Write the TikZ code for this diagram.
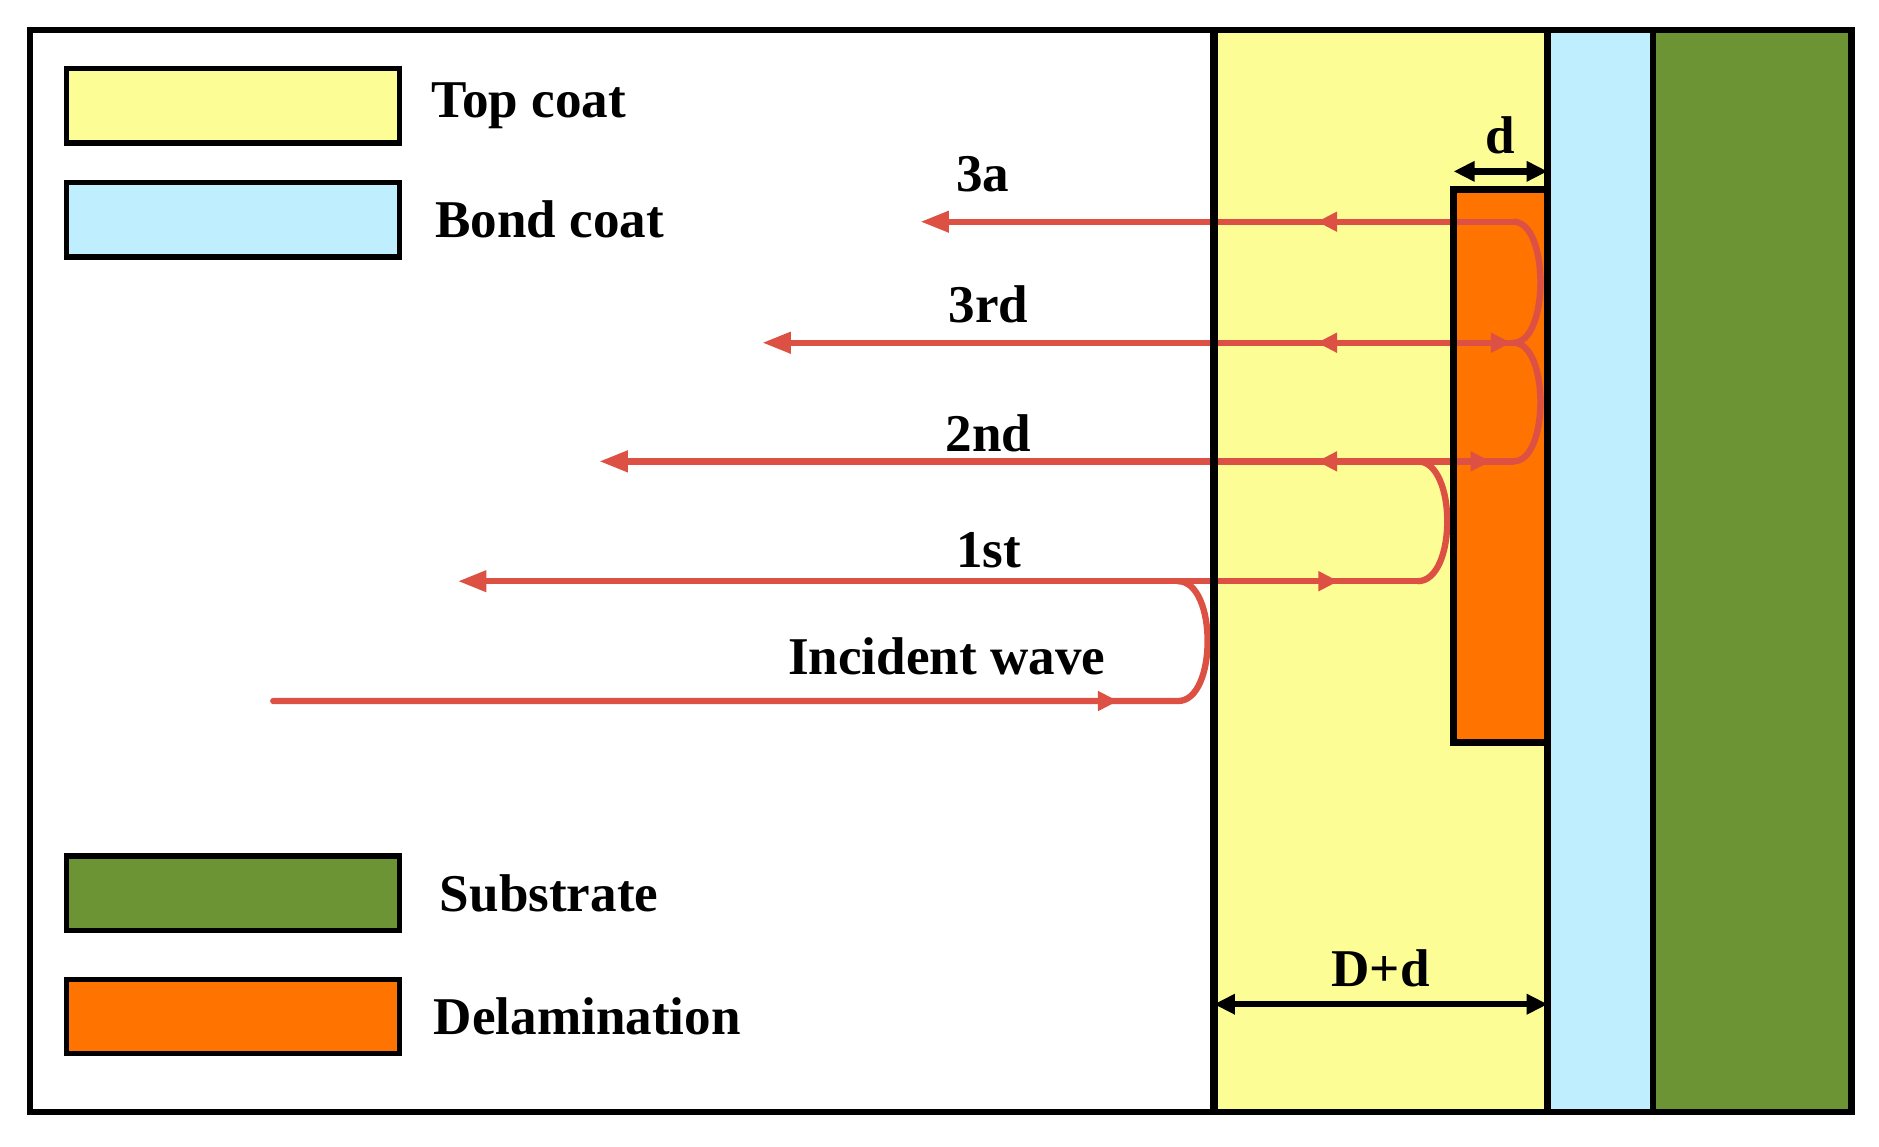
\documentclass[tikz,border=0pt]{standalone}
\usepackage{fontspec}
\setmainfont{Liberation Serif}
\usetikzlibrary{positioning,arrows.meta}
\definecolor{tcyellow}{RGB}{253,253,150}
\definecolor{bcblue}{RGB}{191,238,255}
\definecolor{subgreen}{RGB}{108,148,53}
\definecolor{delorange}{RGB}{255,115,0}
\definecolor{wavered}{RGB}{221,80,68}

\begin{document}
\begin{tikzpicture}[x=0.01cm, y=-0.01cm, every node/.style={font=\fontsize{12.6}{15}\selectfont\bfseries}]
  \tikzset{
    legbox/.style={draw, line width=1.3pt, minimum width=2.78cm, minimum height=0.62cm, inner sep=0pt, anchor=north west},
    layer/.style={anchor=north west, inner sep=0pt, minimum height=9.03cm},
    ray/.style={draw=wavered, line width=1.5pt},
    endtip/.style={-{Triangle[length=6.8pt, width=4.8pt]}},
    midtip/.style={-{Triangle[length=4.8pt, width=4.5pt]}},
    dimline/.style={line width=1.5pt, {Triangle[length=5pt, width=4.6pt]}-{Triangle[length=5pt, width=4.6pt]}}
  }
  \useasboundingbox (0,0) rectangle (1568,957);

  % Coating layers
  \node[layer, fill=tcyellow, minimum width=2.77cm] (tc)  at (1013,25) {};
  \node[layer, fill=bcblue, minimum width=0.88cm]   (bc)  at (1290,25) {};
  \node[layer, fill=subgreen, minimum width=1.67cm] (sub) at (1378,25) {};
  \node[anchor=north west, inner sep=0pt, fill=delorange, minimum width=0.77cm, minimum height=4.6cm] (del) at (1213,158) {};

  % Waves
  \draw[ray, line cap=round] (228,585) -- (983,585) .. controls (1016,585) and (1016,485) .. (983,485);
  \draw[ray, endtip] (1183,485) -- (382,485);
  \draw[ray] (1183,485) .. controls (1216,485) and (1216,385) .. (1183,385);
  \draw[ray, endtip] (1263,385) -- (500,385);
  \draw[ray] (1263,385) .. controls (1293,385) and (1293,286) .. (1263,286);
  \draw[ray, endtip] (1263,286) -- (636,286);
  \draw[ray] (1263,286) .. controls (1293,286) and (1293,185) .. (1263,185);
  \draw[ray, endtip] (1263,185) -- (768,185);

  % Arrowheads along the waves
  \foreach \yy in {185,286,385}
    \draw[ray, midtip] (1121,\yy) -- (1099,\yy);
  \draw[ray, midtip] (911,585) -- (933,585);
  \draw[ray, midtip] (1095,485) -- (1117,485);
  \draw[ray, midtip] (1222,385) -- (1244,385);
  \draw[ray, midtip] (1239,286) -- (1261,286);

  % Layer outlines
  \draw[line width=1.9pt] (tc.north west) -- (tc.south west);
  \draw[line width=1.6pt] (tc.north east) -- (tc.south east);
  \draw[line width=1.6pt] (bc.north east) -- (bc.south east);
  \draw[line width=1.6pt] (del.north east) -- (del.north west) -- (del.south west) -- (del.south east);
  \draw[line width=1.5pt] (25,25) rectangle (1545,928);

  % Thickness marks
  \coordinate (dd) at (0,838);
  \draw[dimline] ([yshift=0.15cm]del.north west) -- ([yshift=0.15cm]del.north east);
  \draw[dimline] (tc.west |- dd) -- (tc.east |- dd);
  \node (dlab)  at (1252,113) {d};
  \node (Ddlab) at (1152,808) {D+d};

  % Wave labels
  \node (l3a)  at (820,145) {3a};
  \node (l3rd) at (825,254) {3rd};
  \node (l2nd) at (825,362) {2nd};
  \node (l1st) at (825,459) {1st};
  \node (linc) at (790,548) {Incident wave};

  % Legend
  \node[legbox, fill=tcyellow]  (legtc)  at (53,55)  {};
  \node[legbox, fill=bcblue]    (legbc)  at (53,150) {};
  \node[legbox, fill=subgreen]  (legsub) at (53,712) {};
  \node[legbox, fill=delorange] (legdel) at (53,815) {};
  \node[right=0.12cm of legtc]  {Top coat};
  \node[right=0.15cm of legbc]  {Bond coat};
  \node[right=0.19cm of legsub] {Substrate};
  \node[right=0.14cm of legdel] {Delamination};
\end{tikzpicture}
\end{document}
